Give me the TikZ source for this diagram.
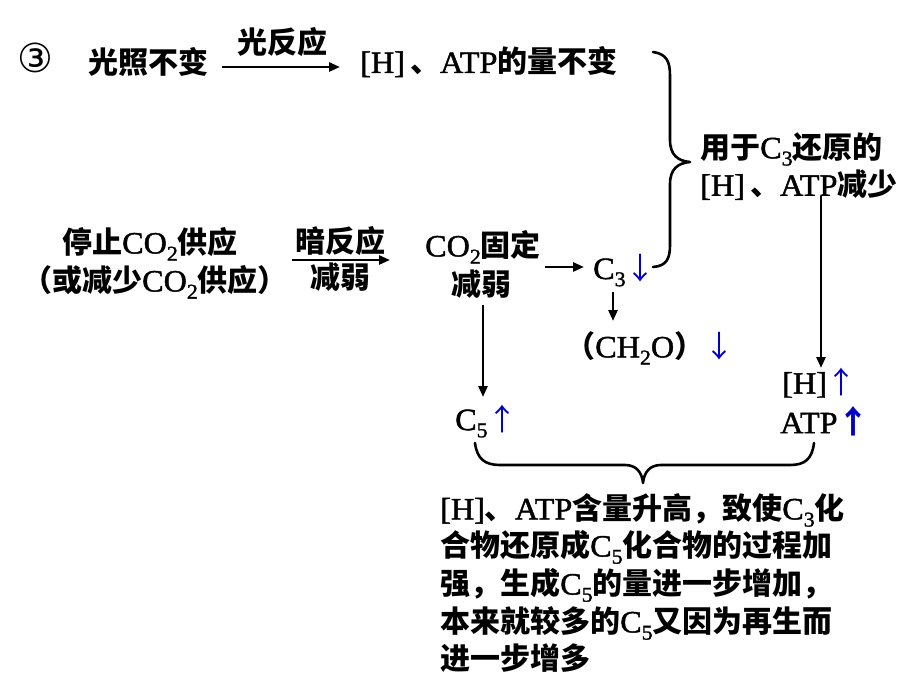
\documentclass[tikz,border=0pt]{standalone}
\usepackage{fontspec}
\setmainfont{Liberation Serif}[FakeStretch=1.04,FakeBold=1.4]
\newfontfamily\cjk{Noto Sans CJK SC}
\newfontfamily\sym{DejaVu Sans}
\usetikzlibrary{arrows.meta}
\definecolor{arrblue}{RGB}{0,0,200}
\newcommand\cj[1]{{\fontsize{30}{34}\selectfont\cjk\bfseries #1}}
\newcommand\subs[1]{\raisebox{-0.23em}{\smash{\fontsize{21}{21}\selectfont #1}}}
\newcommand\dnar{\textcolor{arrblue}{\fontsize{30}{34}\selectfont\cjk\mdseries ↓}}
\newcommand\upar{\textcolor{arrblue}{\fontsize{30}{34}\selectfont\cjk\mdseries ↑}}
\newcommand\bupar{\textcolor{arrblue}{\fontsize{32}{34}\selectfont\cjk\bfseries ↑}}
\begin{document}
\begin{tikzpicture}[x=1pt,y=-1pt,
  every node/.style={inner sep=0pt, font=\fontsize{31}{34}\selectfont},
  arr/.style={line width=2.6pt, -{Triangle[length=11pt,width=9pt]}},
  brace/.style={line width=2.6pt, line cap=round, line join=round}]
\useasboundingbox[fill=white] (0,0) rectangle (920,690);
% top row
\node (circ) at (35.5,58) {\fontsize{40}{40}\selectfont\sym ③};
\node[anchor=west] (light) at (88,62) {\cj{光照不变}};
\node[anchor=west] (hatp) at (360,62) {[H]\,\cj{、}ATP\cj{的量不变}};
\coordinate (a1s) at (222,67);
\coordinate (a1e) at (340,67);
\draw[arr] (a1s) -- (a1e);
\node (lab1) at (282,42) {\cj{光反应}};
% right brace
\draw[brace] (653,52) .. controls (667,54) and (670,62) .. (670,76) -- (670,140)
  .. controls (670,155) and (678,161) .. (690,162)
  .. controls (678,163) and (670,169) .. (670,184) -- (670,245)
  .. controls (670,258) and (667,266) .. (653,267);
\node[anchor=west] (use1) at (700,149) {\cj{用于}C\subs{3}\cj{还原的}};
\node[anchor=west] (use2) at (700,185) {[H]\,\cj{、}ATP\cj{减少}};
% second row
\node (stop1) at (150,244) {\cj{停止}CO\subs{2}\cj{供应}};
\node (stop2) at (155,282) {\cj{（或减少}CO\subs{2}\cj{供应）}};
\coordinate (a2s) at (292,260);
\coordinate (a2e) at (390,260);
\draw[arr] (a2s) -- (a2e);
\node (lab2a) at (340,241) {\cj{暗反应}};
\node (lab2b) at (340,277) {\cj{减弱}};
\node (fix1) at (483,247) {CO\subs{2}\cj{固定}};
\node (fix2) at (481,284) {\cj{减弱}};
\node[anchor=west] (c3) at (593,270) {C\subs{3}\dnar};
\coordinate (a3s) at (545,267);
\coordinate (a3e) at (584,267);
\draw[arr] (a3s) -- (a3e);
\node[anchor=west] (ch2o) at (565,348) {\cj{（}CH\subs{2}O\cj{）}\dnar};
\coordinate (a4s) at (613,292);
\coordinate (a4e) at (613,321);
\draw[arr] (a4s) -- (a4e);
\coordinate (a5s) at (483,305);
\coordinate (a5e) at (483,397);
\draw[arr] (a5s) -- (a5e);
\node[anchor=west] (c5) at (455,421) {C\subs{5}\upar};
\node[anchor=west] (h) at (782,383) {[H]\upar};
\node[anchor=west] (atp) at (780,421) {ATP\bupar};
\coordinate (a6s) at (821,196);
\coordinate (a6e) at (821,368);
\draw[arr] (a6s) -- (a6e);
% bottom brace
\draw[brace] (475,443) .. controls (477,459) and (485,465) .. (500,465) -- (625,465)
  .. controls (636,465) and (642,472) .. (643,483)
  .. controls (644,472) and (650,465) .. (661,465) -- (790,465)
  .. controls (805,465) and (812,459) .. (814,443);
% bottom text
\node[anchor=west] (t1) at (440,510) {[H]\cj{、}ATP\cj{含量升高，致使}C\subs{3}\cj{化}};
\node[anchor=west] (t2) at (440,547) {\cj{合物还原成}C\subs{5}\cj{化合物的过程加}};
\node[anchor=west] (t3) at (440,585) {\cj{强，生成}C\subs{5}\cj{的量进一步增加，}};
\node[anchor=west] (t4) at (440,623) {\cj{本来就较多的}C\subs{5}\cj{又因为再生而}};
\node[anchor=west] (t5) at (440,658) {\cj{进一步增多}};
\end{tikzpicture}
\end{document}
